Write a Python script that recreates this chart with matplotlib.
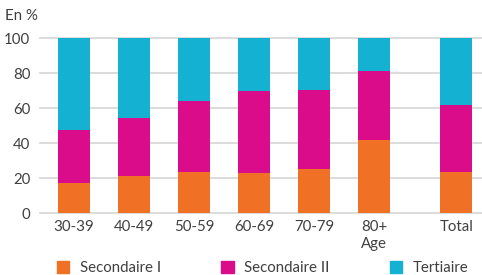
import matplotlib
matplotlib.use("Agg")
import matplotlib.pyplot as plt
from matplotlib.patches import Patch

categories = ["30-39", "40-49", "50-59", "60-69", "70-79", "80+\nAge", "Total"]
secondaire_1 = [17, 21, 23.5, 23, 25, 42, 23.5]
secondaire_2 = [30.5, 33.5, 40.5, 46.5, 45.5, 39, 38]
tertiaire = [52.5, 45.5, 36, 30.5, 29.5, 19, 38.5]
series_names = ["Secondaire I", "Secondaire II", "Tertiaire"]
colors = ["#F07125", "#DA0C8A", "#14B1D2"]
text_color = "#404040"

plt.rcParams["font.family"] = ["Lato", "DejaVu Sans"]

# the Total bar sits a little further away from the age groups
positions = [0, 1, 2, 3, 4, 5, 6.37]

fig = plt.figure(figsize=(4.82, 2.75), dpi=100)
ax = fig.add_axes([40 / 482, 1 - 213.3 / 275, 442 / 482, 175.3 / 275])

bottom = [0] * len(categories)
for values, color in zip([secondaire_1, secondaire_2, tertiaire], colors):
    ax.bar(positions, values, width=0.533, bottom=bottom, color=color, zorder=3)
    bottom = [b + v for b, v in zip(bottom, values)]

ax.set_xlim(-0.567, 6.8)
ax.set_ylim(0, 100)
ax.set_yticks([0, 20, 40, 60, 80, 100])
ax.set_xticks(positions)
ax.set_xticklabels(categories, linespacing=1.25)
ax.tick_params(axis="both", length=0, labelsize=10.8, colors=text_color)
ax.tick_params(axis="y", pad=7)
ax.tick_params(axis="x", pad=5)
ax.grid(axis="y", color="#D9D9D9", linewidth=1.3, zorder=0)
ax.set_axisbelow(True)
for line in ax.get_ygridlines():
    line.set_clip_on(False)
for spine in ax.spines.values():
    spine.set_visible(False)

fig.text(5 / 482, 1 - 16 / 275, "En %", fontsize=10.8, color=text_color, va="center")

handles = [Patch(color=c) for c in colors]
fig.legend(handles, series_names, loc="center", bbox_to_anchor=(0.545, 1 - 268 / 275),
           ncol=3, frameon=False, fontsize=10.8, handlelength=0.85, handleheight=0.85,
           handletextpad=0.7, columnspacing=4.0, labelcolor=text_color)

fig.savefig("out.png", dpi=100)
